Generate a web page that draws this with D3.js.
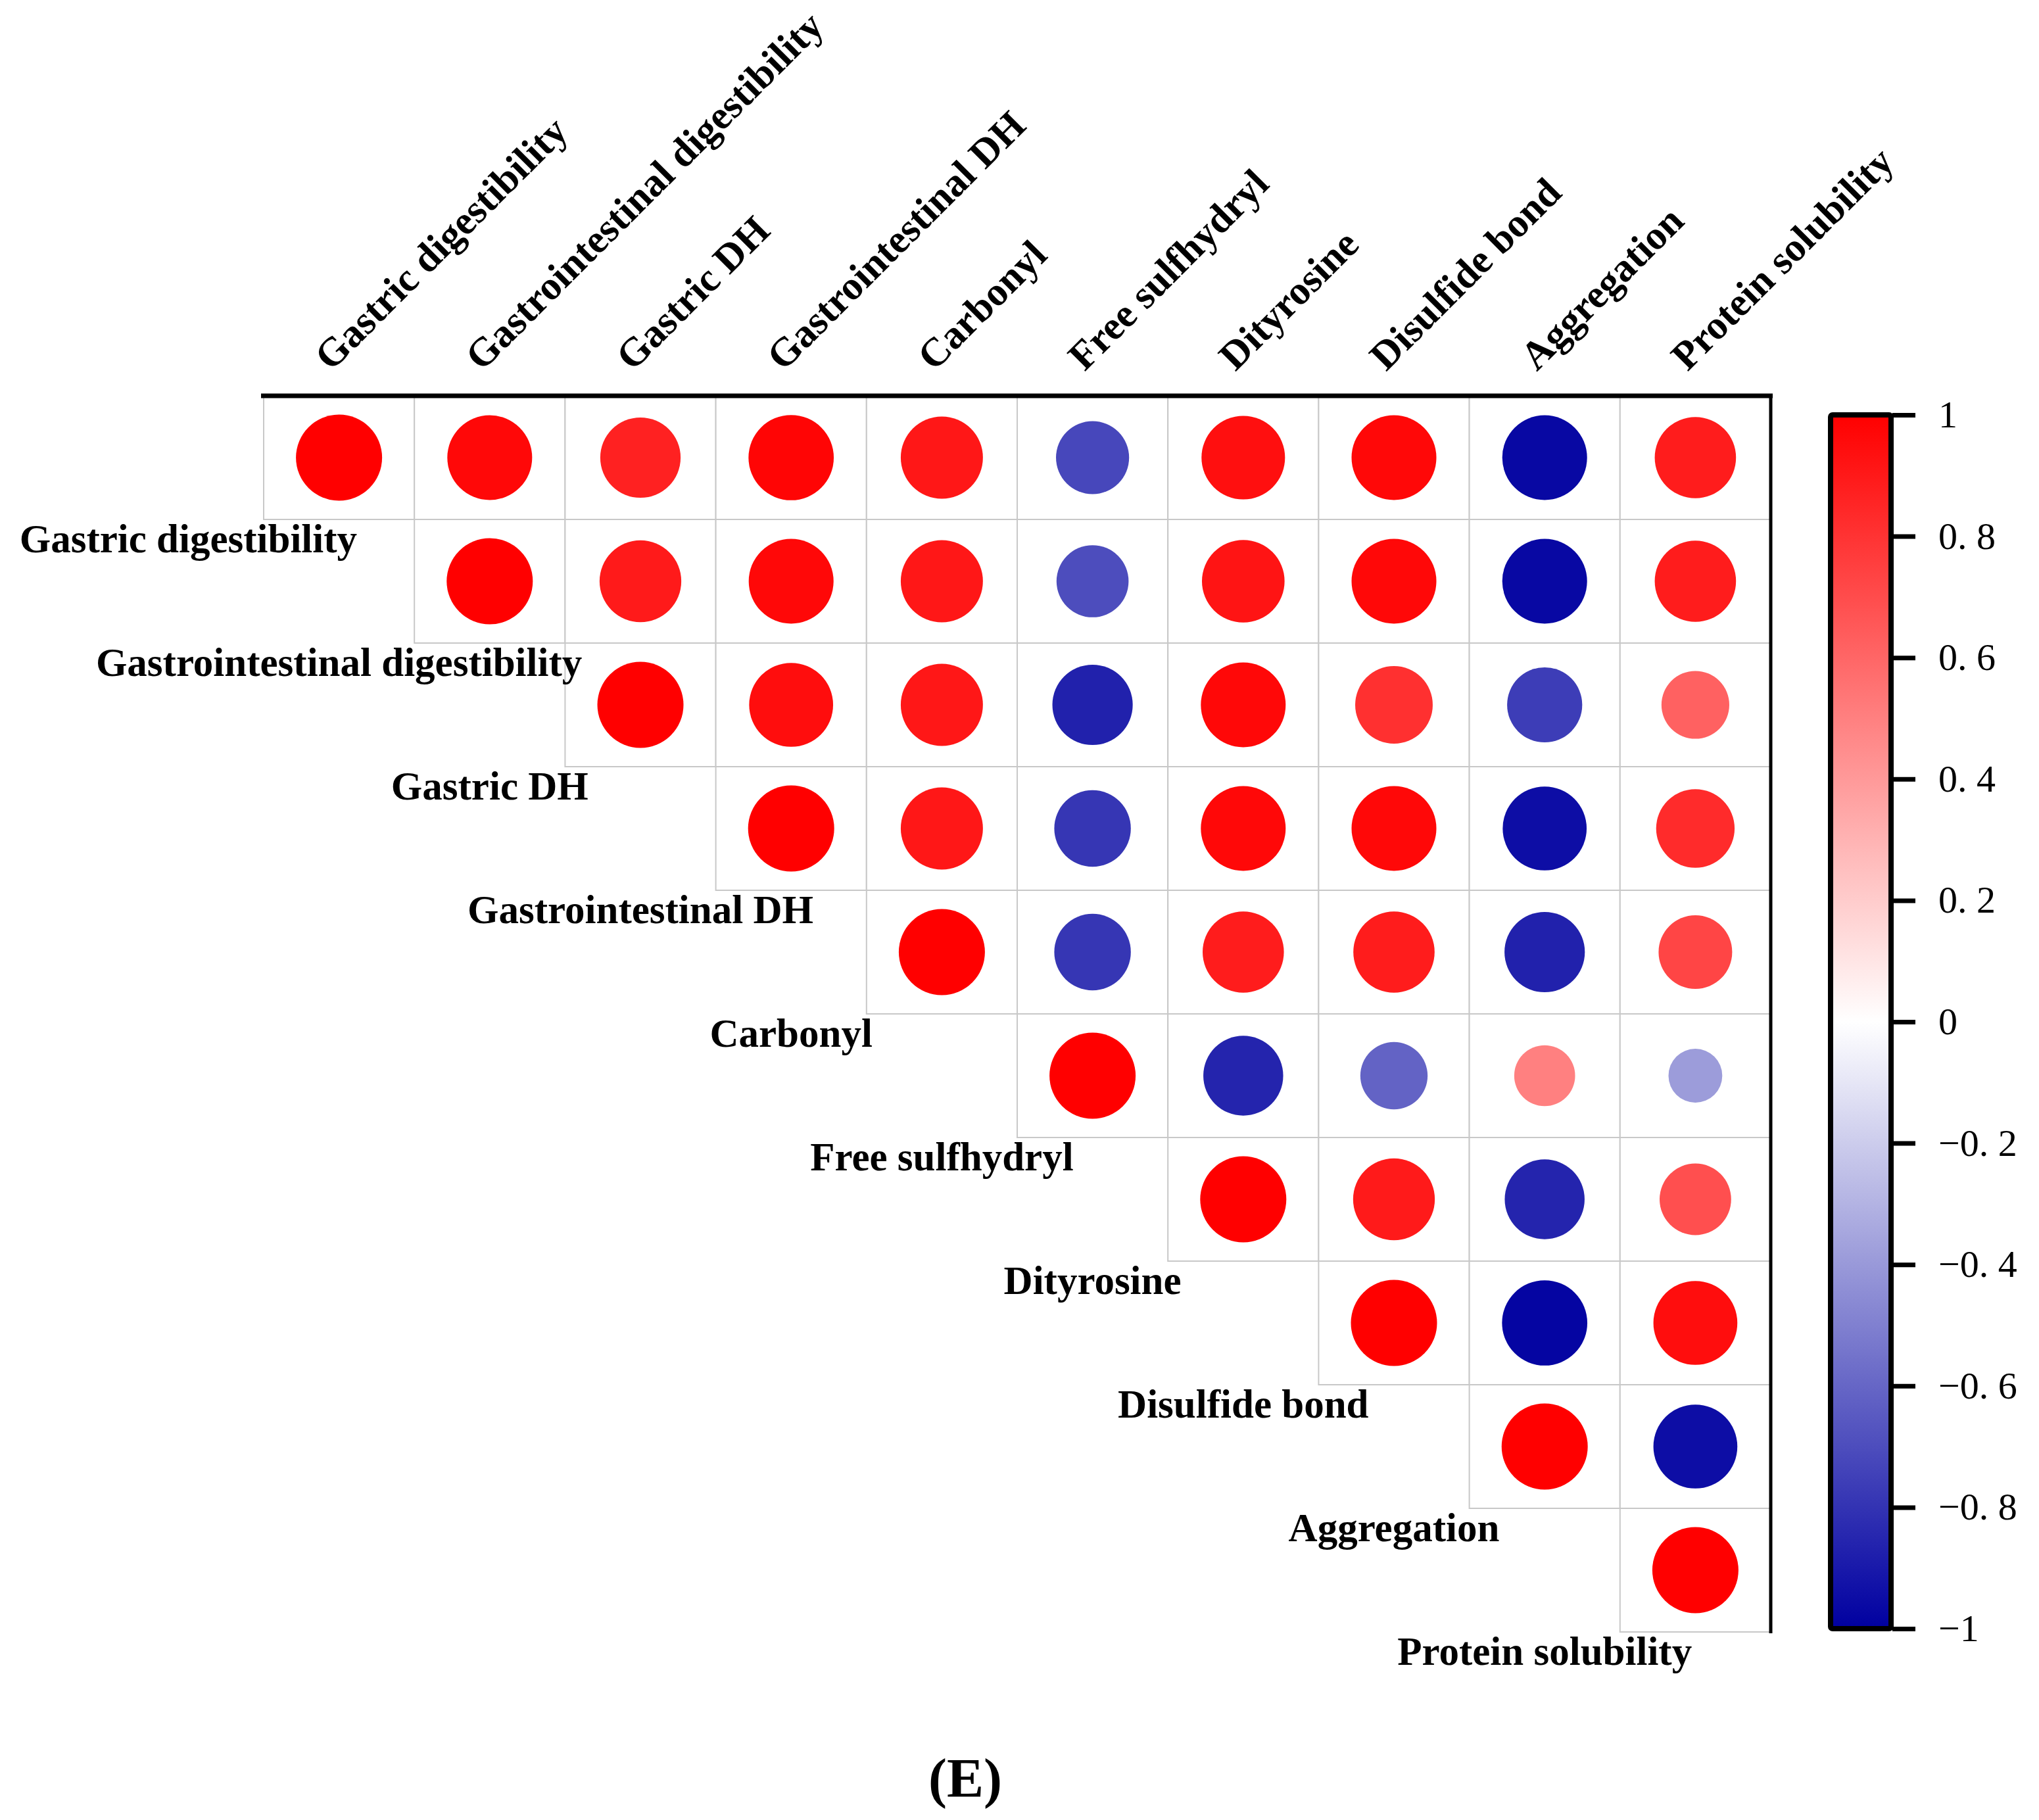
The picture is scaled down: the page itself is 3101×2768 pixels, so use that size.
<!DOCTYPE html>
<html>
<head>
<meta charset="utf-8">
<script src="https://cdn.jsdelivr.net/npm/d3@7"></script>
<style>
  html, body { margin: 0; padding: 0; background: #fff; }
</style>
</head>
<body>
<div id="corrChart"></div>
<script>
(function(){
  var width = 3101;
  var height = 2768;

  var labels = ['Gastric digestibility', 'Gastrointestinal digestibility', 'Gastric DH',
    'Gastrointestinal DH', 'Carbonyl', 'Free sulfhydryl', 'Dityrosine',
    'Disulfide bond', 'Aggregation', 'Protein solubility'];

  // upper triangle, each row starts on the diagonal
  var gastricDig      = [1, 0.97, 0.87, 0.98, 0.91, -0.72, 0.94, 0.97, -0.97, 0.89];
  var giDig           = [1, 0.90, 0.97, 0.91, -0.70, 0.92, 0.97, -0.97, 0.89];
  var gastricDH       = [1, 0.95, 0.91, -0.87, 0.97, 0.81, -0.76, 0.62];
  var giDH            = [1, 0.91, -0.79, 0.97, 0.97, -0.95, 0.83];
  var carbonyl        = [1, -0.79, 0.89, 0.89, -0.87, 0.73];
  var freeSH          = [1, -0.86, -0.61, 0.50, -0.39];
  var dityrosine      = [1, 0.90, -0.86, 0.69];
  var disulfide       = [1, -0.98, 0.95];
  var aggregation     = [1, -0.95];
  var proteinSol      = [1];

  var legendTicks = [1, 0.8, 0.6, 0.4, 0.2, 0, -0.2, -0.4, -0.6, -0.8, -1];
  var legendTickLabels = ['1', '0. 8', '0. 6', '0. 4', '0. 2', '0', '\u22120. 2', '\u22120. 4', '\u22120. 6', '\u22120. 8', '\u22121'];

  var rows = [gastricDig, giDig, gastricDH, giDH, carbonyl, freeSH, dityrosine, disulfide, aggregation, proteinSol];
  var cells = [];
  rows.forEach(function(row, i){
    row.forEach(function(v, k){
      cells.push({ row: i, col: i + k, value: v });
    });
  });

  var svg = d3.select('#corrChart').append('svg')
      .attr('width', width)
      .attr('height', height);

  var x = d3.scaleBand().domain(d3.range(labels.length)).range([401, 2693]);
  var y = d3.scaleBand().domain(d3.range(labels.length)).range([602, 2482]);
  var color = d3.scaleLinear().domain([-1, 0, 1]).range(['#0000a0', '#ffffff', '#ff0000']);
  var rMax = 65.5;
  var radius = d3.scaleSqrt().domain([0, 1]).range([0, rMax]);

  var serif = '"Liberation Serif", "Times New Roman", serif';

  // grid cells
  svg.append('g').selectAll('rect')
      .data(cells)
      .enter()
      .append('rect')
        .attr('x', function(d){ return x(d.col); })
        .attr('y', function(d){ return y(d.row); })
        .attr('width', x.bandwidth())
        .attr('height', y.bandwidth())
        .attr('fill', '#fff')
        .attr('stroke', '#c8c8c8')
        .attr('stroke-width', 2);

  // circles
  svg.append('g').selectAll('circle')
      .data(cells)
      .enter()
      .append('circle')
        .attr('cx', function(d){ return x(d.col) + x.bandwidth() / 2; })
        .attr('cy', function(d){ return y(d.row) + y.bandwidth() / 2; })
        .attr('r', function(d){ return radius(Math.abs(d.value)); })
        .attr('fill', function(d){ return color(d.value); });

  // thick frame: top and right
  svg.append('line')
      .attr('x1', x(0) - 4).attr('x2', x.range()[1] + 3)
      .attr('y1', y(0)).attr('y2', y(0))
      .attr('stroke', '#000').attr('stroke-width', 7);
  svg.append('line')
      .attr('x1', x.range()[1]).attr('x2', x.range()[1])
      .attr('y1', y(0) - 3).attr('y2', y.range()[1] + 2)
      .attr('stroke', '#000').attr('stroke-width', 5);

  // top (column) labels, rotated
  svg.append('g').selectAll('text')
      .data(labels)
      .enter()
      .append('text')
        .text(function(d){ return d; })
        .attr('transform', function(d, i){
          var cx = x(i) + x.bandwidth() / 2 - 12;
          return 'translate(' + cx + ',566) rotate(-45)';
        })
        .attr('font-family', serif)
        .attr('font-weight', 'bold')
        .attr('font-size', '61px')
        .attr('fill', '#000');

  // row labels, sitting under each row
  svg.append('g').selectAll('text')
      .data(labels)
      .enter()
      .append('text')
        .text(function(d){ return d; })
        .attr('x', function(d, i){ return x(0) + (i - 0.5) * x.bandwidth(); })
        .attr('y', function(d, i){ return y(i) + y.bandwidth() / 2 + 144; })
        .attr('text-anchor', 'middle')
        .attr('font-family', serif)
        .attr('font-weight', 'bold')
        .attr('font-size', '61px')
        .attr('fill', '#000');

  // colour bar
  var barY = d3.scaleLinear().domain([-1, 1]).range([2477, 631]);
  var grad = svg.append('defs').append('linearGradient')
      .attr('id', 'barGrad')
      .attr('x1', 0).attr('y1', 1).attr('x2', 0).attr('y2', 0);
  grad.selectAll('stop')
      .data(d3.range(-1, 1.0001, 0.1))
      .enter()
      .append('stop')
        .attr('offset', function(d){ return (d + 1) / 2; })
        .attr('stop-color', function(d){ return color(d); });

  svg.append('rect')
      .attr('x', 2784)
      .attr('y', barY(1))
      .attr('width', 92)
      .attr('height', barY(-1) - barY(1))
      .attr('rx', 3)
      .attr('fill', 'url(#barGrad)')
      .attr('stroke', '#000')
      .attr('stroke-width', 8);

  var barAxis = d3.axisRight(barY)
      .tickValues(legendTicks)
      .tickSize(35)
      .tickPadding(35)
      .tickFormat(function(d, i){ return legendTickLabels[i]; });

  var axisG = svg.append('g')
      .attr('transform', 'translate(2878,0)')
      .call(barAxis);
  axisG.select('.domain').remove();
  axisG.selectAll('.tick line')
      .attr('stroke', '#000')
      .attr('stroke-width', 7);
  axisG.selectAll('.tick text')
      .attr('font-family', serif)
      .attr('font-size', '58px')
      .attr('fill', '#000');

  // panel label
  svg.append('text')
      .text('(E)')
      .attr('x', 1468)
      .attr('y', 2733)
      .attr('text-anchor', 'middle')
      .attr('font-family', serif)
      .attr('font-weight', 'bold')
      .attr('font-size', '84px')
      .attr('fill', '#000');
})()
</script>
</body>
</html>
